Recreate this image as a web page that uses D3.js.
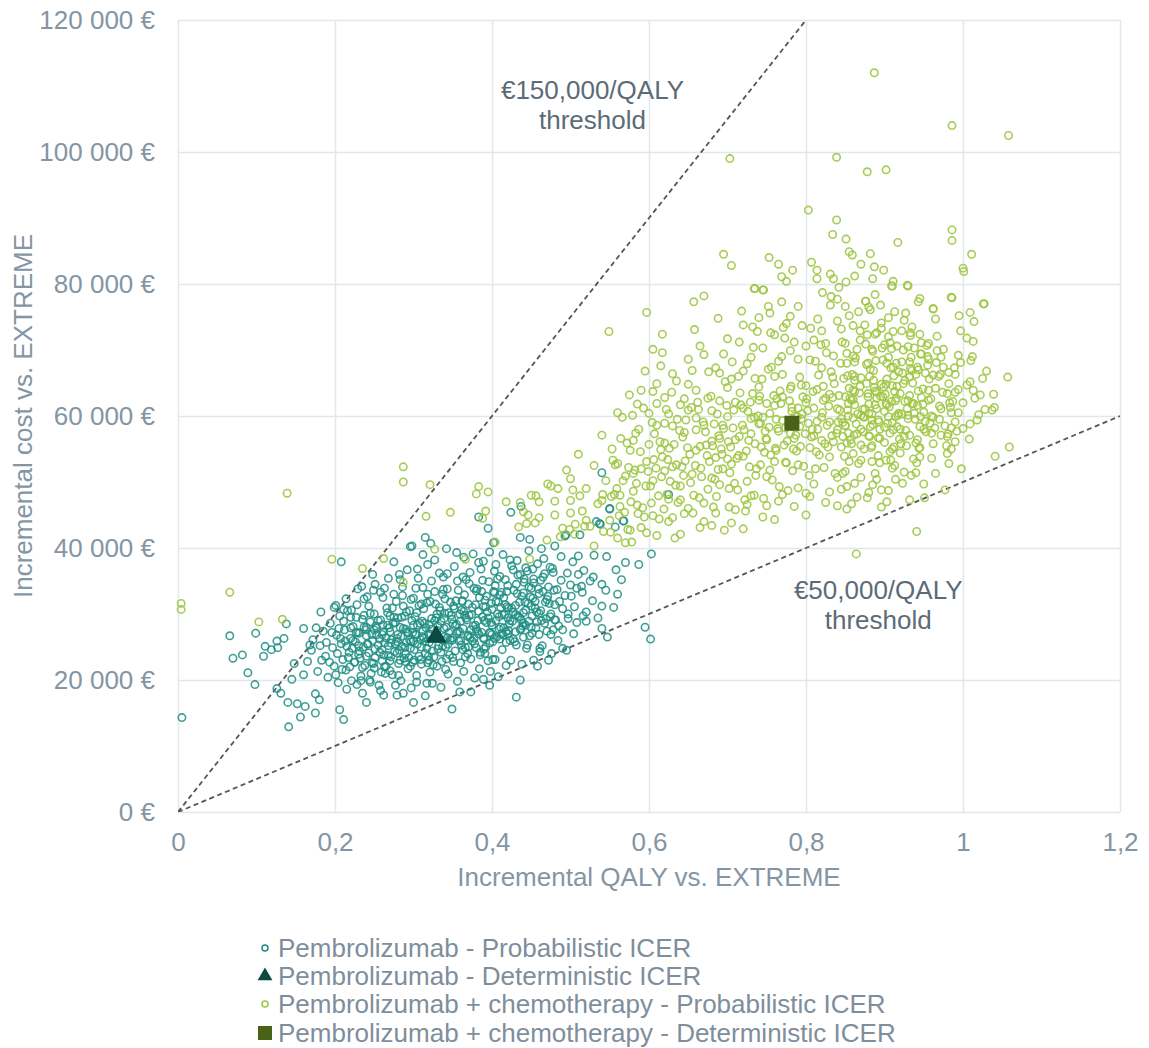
<!DOCTYPE html>
<html>
<head>
<meta charset="utf-8">
<script src="https://cdn.jsdelivr.net/npm/d3@7"></script>
<style>
  html, body { margin: 0; padding: 0; background: #fff; }
  svg { display: block; font-family: "Liberation Sans", Arial, sans-serif; }
</style>
</head>
<body>
<svg id="chart" width="1149" height="1048"></svg>
<script>
// ---------- DATA ----------
const xTicks = [0, 0.2, 0.4, 0.6, 0.8, 1, 1.2];
const yTicks = [0, 20000, 40000, 60000, 80000, 100000, 120000];

const legendLabels = [
  "Pembrolizumab - Probabilistic ICER",
  "Pembrolizumab - Deterministic ICER",
  "Pembrolizumab + chemotherapy - Probabilistic ICER",
  "Pembrolizumab + chemotherapy - Deterministic ICER"
];

const thresholds = [
  { wtp: 150000, label: ["€150,000/QALY", "threshold"], at: [0.528, 108000] },
  { wtp: 50000,  label: ["€50,000/QALY", "threshold"],  at: [0.892, 32300] }
];

const pembroDet = [[0.329, 26400]];
const comboDet = [[0.782, 58900]];

// Pembrolizumab - probabilistic (QALY, cost)
const pembroProb = [
 [0.208,37900],[0.066,26700],[0.070,23300],[0.082,23800],[0.089,21100],[0.098,19300],[0.099,27100],[0.109,23600],
 [0.111,25100],[0.119,24600],[0.127,24900],[0.126,25900],[0.135,26300],[0.138,28500],[0.005,14300],[0.141,12900],
 [0.126,18700],[0.131,18000],[0.140,16600],[0.152,16400],[0.156,14400],[0.162,16000],[0.175,15000],[0.180,17000],
 [0.206,15500],[0.211,14000],[0.145,20100],[0.160,20800],[0.148,22500],[0.160,27800],[0.182,30300],[0.201,31300],
 [0.211,30700],[0.220,29500],[0.237,32300],[0.249,33600],[0.251,34500],[0.282,36000],[0.296,40200],[0.262,17700],
 [0.279,17700],[0.240,16600],[0.235,18000],[0.245,19700],[0.175,17900],
 [0.298,40300],[0.315,41600],[0.322,40700],[0.342,39900],[0.355,39300],[0.376,39100],[0.395,43000],[0.383,44700],
 [0.402,40800],[0.424,45400],[0.437,46300],[0.436,41600],[0.448,41300],[0.463,39900],[0.480,40300],[0.494,42000],
 [0.512,42000],[0.533,44000],[0.537,43700],[0.550,46000],[0.557,43200],[0.568,44100],[0.546,38700],[0.558,36700],
 [0.587,37500],[0.603,39100],[0.540,34500],[0.529,35600],[0.514,34200],[0.501,32700],[0.540,27800],[0.547,26500],
 [0.595,28000],[0.602,26200],[0.516,29700],[0.508,28700],[0.497,30000],[0.478,27600],[0.495,24500],[0.476,24000],
 [0.461,24300],[0.453,23000],[0.436,20000],[0.431,17400],[0.408,20500],[0.397,19200],[0.389,20100],[0.373,18200],
 [0.359,18200],[0.349,15600],[0.317,19500],[0.304,19700],[0.287,18000],[0.300,16600],
 [0.540,51400],[0.625,48100],[0.550,45900],[0.538,43600],[0.567,44100],[0.493,41800],[0.510,38800],
 [0.17,24500],[0.165,22800],[0.172,26100],[0.178,21300],[0.181,25200],[0.185,27400],[0.188,23600],[0.191,20400],
 [0.194,28600],[0.197,24900],[0.199,22100],[0.202,26800],[0.204,19600],[0.206,29700],[0.208,25500],[0.21,23100],
 [0.212,27600],[0.214,21500],[0.216,30500],[0.218,24200],[0.22,26300],[0.221,19900],[0.223,28100],[0.225,22700],
 [0.226,25800],[0.228,31400],[0.23,23900],[0.231,27100],[0.233,20600],[0.235,29200],[0.236,25000],[0.238,22200],
 [0.24,26700],[0.241,32600],[0.243,24100],[0.245,28800],[0.246,21000],[0.248,26000],[0.25,30000],[0.251,23400],
 [0.253,27900],[0.255,25300],[0.256,19200],[0.258,33300],[0.26,24600],[0.261,28300],[0.263,22000],[0.265,26400],
 [0.266,30900],[0.268,23700],[0.27,27300],[0.271,25600],[0.273,20800],[0.275,29500],[0.276,24300],[0.278,31900],
 [0.28,26900],[0.281,22500],[0.283,28000],[0.285,25100],[0.286,34100],[0.288,23300],[0.29,27700],[0.291,30300],
 [0.293,21700],[0.295,26100],[0.296,24800],[0.298,29000],[0.3,32400],[0.301,23000],[0.303,27000],[0.305,25400],
 [0.306,35400],[0.308,28600],[0.31,22400],[0.311,26600],[0.313,30800],[0.315,24000],[0.316,27900],[0.318,33000],
 [0.32,25700],[0.321,21200],[0.323,29300],[0.325,26300],[0.326,23500],[0.328,31500],[0.33,27500],[0.331,24700],
 [0.333,36200],[0.335,28900],[0.336,22800],[0.338,26000],[0.34,30100],[0.341,25000],[0.343,33800],[0.345,27200],
 [0.346,23800],[0.348,29800],[0.35,26400],[0.351,31200],[0.353,24400],[0.355,28400],[0.356,35000],[0.358,25900],
 [0.36,22600],[0.361,30600],[0.363,27800],[0.365,32900],[0.366,24900],[0.368,29100],[0.37,26800],[0.371,34600],
 [0.373,23200],[0.375,31000],[0.376,28200],[0.378,25500],[0.38,33500],[0.381,27400],[0.383,30400],[0.385,24200],
 [0.386,36800],[0.388,29600],[0.39,26200],[0.391,32100],[0.393,28700],[0.395,22900],[0.396,34900],[0.398,27100],
 [0.4,30700],[0.401,25800],[0.403,33200],[0.405,29000],[0.406,26500],[0.408,31800],[0.41,35700],[0.411,28000],
 [0.413,24600],[0.415,32500],[0.416,29900],[0.418,27300],[0.42,34300],[0.421,30900],[0.423,26000],[0.425,37300],
 [0.426,28900],[0.428,33600],[0.43,31300],[0.431,25300],[0.433,35900],[0.435,29500],[0.436,27600],[0.438,32700],
 [0.44,30200],[0.441,34800],[0.443,28300],[0.445,36500],[0.446,31600],[0.448,26700],[0.45,33900],[0.451,29700],
 [0.453,35300],[0.455,31900],[0.456,27900],[0.458,37600],[0.46,33100],[0.462,30500],[0.465,35600],[0.467,28600],
 [0.47,32200],[0.472,34100],[0.475,30000],[0.478,36300],[0.48,31400],[0.483,33700],[0.485,28200],[0.488,35100],
 [0.49,30800],[0.493,32800],[0.497,29300],[0.5,34400],[0.505,31100],[0.51,36000],[0.515,33300],[0.52,30300],[0.525,35000],
 [0.222,24800],[0.227,27200],[0.232,23300],[0.237,29800],[0.242,25400],[0.247,22600],[0.252,28200],[0.257,26200],
 [0.262,23800],[0.267,30200],[0.272,26100],[0.277,28700],[0.282,24500],[0.287,31200],[0.292,27300],[0.297,25800],
 [0.302,29600],[0.307,23600],[0.312,27400],[0.317,31700],[0.322,26900],[0.327,29000],[0.332,25200],[0.337,33000],
 [0.342,28000],[0.347,26100],[0.352,30800],[0.357,27400],[0.362,32000],[0.367,29400],[0.372,26400],[0.377,33900],
 [0.382,29000],[0.387,27200],[0.392,31100],[0.397,25600],[0.402,33400],[0.407,30000],[0.412,27000],[0.417,31400],
 [0.422,28500],[0.427,30300],[0.432,33100],[0.437,29100],[0.442,31800],[0.447,28900],[0.452,32400],[0.457,30300],
 [0.462,35100],[0.468,31800],[0.474,29600],[0.24,28000],[0.26,26900],[0.28,29400],[0.3,25900],[0.32,28400],
 [0.34,26600],[0.36,28900],[0.38,27700],[0.4,28300],[0.42,29400],[0.44,33200],[0.25,21800],[0.27,22900],[0.29,24000],
 [0.31,25000],[0.33,22100],[0.35,23400],[0.37,25000],[0.39,24700],[0.41,26200],[0.43,27300],[0.45,28000],[0.46,26900],
 [0.47,27400],[0.48,29100],[0.49,27600],[0.263,33900],[0.283,35200],[0.303,33900],[0.323,35000],[0.343,36100],
 [0.363,35600],[0.383,37800],[0.403,36500],[0.423,38200],[0.443,37000],[0.234,34200],[0.214,32300],[0.199,31000],
 [0.244,20000],[0.264,21000],[0.284,19900],[0.304,20700],[0.324,19500],[0.344,20900],[0.364,21300],[0.384,21700],
 [0.404,23100],[0.424,23000],[0.444,24800],[0.464,25200],[0.484,26000],[0.504,27000],[0.52,28900],[0.54,31200],
 [0.56,33000],[0.57,37800],[0.53,38900],
 [0.205,27800],[0.209,21600],[0.213,25900],[0.217,23400],[0.221,30600],[0.225,22700],[0.229,27200],[0.233,19900],
 [0.237,28000],[0.241,25500],[0.245,30100],[0.249,22500],[0.253,26800],[0.257,24200],[0.261,32500],[0.265,22100],
 [0.269,27900],[0.273,30900],[0.277,25500],[0.281,20700],[0.285,29500],[0.289,24900],[0.293,27100],[0.297,32200],
 [0.301,24600],[0.305,28300],[0.309,23100],[0.313,26400],[0.317,24800],[0.321,31900],[0.325,22300],[0.329,29400],
 [0.333,31000],[0.337,25100],[0.341,21600],[0.345,30200],[0.349,26000],[0.353,28200],[0.357,33600],[0.361,25300],
 [0.365,29800],[0.369,24000],[0.373,27600],[0.377,26300],[0.381,33800],[0.385,23800],[0.389,31100],[0.393,32700],
 [0.397,27200],[0.401,23100],[0.405,31900],[0.409,27700],[0.413,29900],[0.417,35200],[0.421,27500],[0.425,30900],
 [0.429,25800],[0.433,29700],[0.437,27800],[0.441,35300],[0.445,25300],[0.449,32600],[0.453,34700],[0.457,28800],
 [0.461,24800],[0.465,33400],[0.469,29300],[0.473,31600],[0.477,36900],[0.481,29100],
 [0.203,24000],[0.207,26300],[0.211,28900],[0.215,25100],[0.219,22000],[0.223,26000],[0.227,29500],[0.231,24400],
 [0.235,21900],[0.239,27600],[0.243,31200],[0.247,26900],[0.251,24700],[0.255,29000],[0.259,21200],[0.263,25600],
 [0.267,28300],[0.271,23500],[0.275,33000],[0.279,26300],[0.283,23000],[0.287,27800],[0.291,25700],[0.295,30500],
 [0.299,22700],[0.303,26800],[0.307,31300],[0.311,28900],[0.315,25800],[0.319,23600],[0.323,27700],[0.327,33400],
 [0.331,28200],[0.335,24200],[0.339,29300],[0.343,26400],[0.347,31800],[0.351,22800],[0.355,27100],[0.359,30000],
 [0.363,24600],[0.367,35200],[0.371,29800],[0.375,25900],[0.379,31400],[0.383,27000],[0.387,33400],[0.391,24000],
 [0.395,29400],[0.399,31600],[0.403,26300],[0.407,35300],[0.411,31000],[0.415,27900],[0.419,33400],[0.423,29000],
 [0.427,26200],[0.431,34500],[0.435,31800],[0.439,28200],[0.443,30600],[0.447,34100],[0.451,27100],[0.455,30900],
 [0.459,33800],[0.463,29000],[0.467,36100],[0.471,32700],[0.475,26900],[0.479,33600],
 [0.262,27300],[0.268,25200],[0.274,28600],[0.279,24100],[0.284,26600],[0.289,29700],[0.294,23400],[0.299,27200],
 [0.304,30200],[0.309,26100],[0.314,28600],[0.319,27000],[0.324,24400],[0.329,26900],[0.334,30500],[0.339,27800],
 [0.344,25400],[0.349,29200],[0.354,32000],[0.359,27300],[0.364,30400],[0.369,26600],[0.374,29900],[0.379,28300],
 [0.384,32500],[0.389,26400],[0.394,30300],[0.399,28700],[0.404,34300],[0.409,29600],[0.414,26800],[0.419,31100],
 [0.258,29100],[0.286,32800],[0.312,34000],[0.338,33700],[0.362,31900],[0.388,35100],[0.412,33300],[0.436,36000],
 [0.27,21400],[0.296,22100],[0.318,22600],[0.342,23200],[0.366,23500],[0.392,25000],[0.418,25700],[0.44,26500],
 [0.22,27900],[0.23,25200],[0.24,23600],[0.25,27600],[0.26,22900],[0.27,29700],[0.28,25800],[0.29,22800],
 [0.3,28300],[0.31,31500],[0.32,23000],[0.33,30000],[0.34,32300],[0.35,28500],[0.36,26000],[0.37,31500],
 [0.38,24900],[0.39,29000],[0.4,26900],[0.41,32900],[0.42,27000],[0.43,29900],[0.44,28600],[0.45,31200],[0.46,30100],
 [0.305,36800],[0.318,37500],[0.327,38200],[0.338,35600],[0.352,37200],[0.364,38600],[0.372,36300],[0.389,38000],
 [0.397,39400],[0.405,37500],[0.414,39000],[0.427,36700],[0.432,38100],[0.447,39600],[0.452,36800],[0.466,38400],
 [0.474,37100],[0.488,38700],[0.496,36200],[0.503,37900],[0.517,36600],[0.528,32000],[0.535,29400],[0.545,33600],
 [0.555,31000],[0.565,35200],[0.508,33900],[0.486,31900],[0.268,35400],[0.292,36700],[0.275,37900],[0.312,39000],
 [0.248,36000],[0.229,33800],[0.196,27200],[0.189,25700],[0.183,23000],[0.176,27900],[0.168,25300],[0.193,22700],
 [0.201,20800],[0.215,18600],[0.228,19300],[0.258,18400],[0.277,19200],[0.297,18800],[0.315,17600],[0.335,18900],
 [0.356,19800],[0.378,20300],[0.398,21300],[0.418,22200],[0.438,22400],[0.458,22100],[0.472,23000],[0.49,24800]
];

// Pembrolizumab + chemotherapy - probabilistic (QALY, cost)
const comboProb = [
 [0.196,38300],[0.235,36900],[0.262,38400],[0.066,33300],[0.103,28800],[0.133,29200],[0.004,31600],[0.004,30700],
 [0.287,34800],[0.139,48300],[0.287,52300],[0.287,50000],[0.321,49600],[0.383,49300],[0.380,48200],[0.395,48500],
 [0.347,45400],[0.316,44800],[0.392,45600],[0.388,44500],[0.418,47000],[0.436,46900],[0.456,47900],[0.471,49700],
 [0.484,49000],[0.503,48800],[0.512,47900],[0.500,45300],[0.506,43600],[0.499,42800],[0.487,41700],[0.518,43300],
 [0.542,42500],[0.551,42400],[0.563,48000],[0.541,48100],[0.576,42700],[0.597,42300],[0.578,40900],[0.446,45000],
 [0.444,43700],[0.434,43200],[0.448,38300],[0.366,38300],[0.327,39800],[0.404,40900],
 [0.549,72800],[0.597,75700],[0.617,72400],[0.617,69600],[0.605,70100],[0.658,73100],[0.657,77300],[0.670,78200],
 [0.695,84500],[0.705,82800],[0.703,99000],[0.753,84000],[0.765,83000],[0.783,82100],[0.769,81100],[0.775,80400],
 [0.734,79300],[0.746,79100],[0.718,75900],[0.688,74800],[0.752,76600],[0.769,77300],[0.754,75600],[0.732,73500],
 [0.771,73400],[0.738,72800],
 [0.887,112000],[0.986,104000],[1.058,102500],[0.839,99200],[0.878,97000],[0.902,97300],[0.803,91200],[0.839,89700],
 [0.834,87500],[0.851,86800],[0.986,88200],[0.986,86600],[0.917,86300],[1.011,84500],[1.000,82400],[1.001,81900],
 [0.807,83300],[0.814,82100],[0.814,80800],[0.831,81500],[0.835,80800],[0.855,84900],[0.859,84400],[0.870,83000],
 [0.882,84600],[0.887,82600],[0.899,82100],[0.885,80800],[0.862,81200],[0.851,80300],[0.842,79500],[0.911,80400],
 [0.910,79700],[0.930,79700],[0.888,78400],[0.876,77400],[0.821,78700],[0.832,78100],[0.840,77700],[0.945,77800],
 [0.943,77300],[0.986,77900],[1.026,77000],[0.735,79300],[0.745,79100],[0.790,76600],[0.831,76800],[0.850,76600],
 [0.962,76300],
 [1.027,77000],[1.009,75700],[1.014,74300],[0.997,72900],[1.013,71300],[0.994,69200],[1.012,69000],[1.057,65900],
 [0.994,64000],[1.005,64700],[1.009,65200],[1.013,63900],[1.022,63200],[1.039,63300],[1.028,61000],[1.037,60900],
 [1.018,59400],[1.009,58800],[1.008,56500],[1.059,55300],[1.041,53900],[0.998,52000],[0.982,52800],[0.980,54300],
 [0.990,56100],[0.985,60500],[0.983,62000],[0.990,59100],[0.972,57100],[0.981,57300],[0.977,48800],[0.951,47600],
 [0.932,47300],[0.941,42500],[0.864,39100],[0.941,52900],[0.934,51000],[0.914,50400],[0.923,49800],[0.878,47600],
 [0.896,48800],[0.903,47000],[0.896,46200],[0.852,45900],[0.858,46700],[0.888,51300],[0.884,53100],[0.902,53300],
 [0.908,53300],[0.912,55300],[0.921,55800],[0.928,55500],[0.945,55200],[0.942,56400],[0.953,57600],[0.958,58900],
 [0.962,59800],[0.946,59900],[0.938,60400],[0.930,60100],[0.922,60300],[0.949,61800],[0.956,62400],[0.937,61900],
 [0.956,63900],[0.971,66300],[0.962,66200],[0.952,66500],[0.943,67000],[0.933,67200],[0.972,68900],[0.966,68100],
 [0.956,68600],[0.947,69400],[0.938,70300],[0.924,70000],[0.932,68200],[0.911,67400],[0.918,66700],[0.967,72100],
 [0.956,71000],[0.947,71100],[0.935,73500],[0.933,72600],[0.962,76200],[0.985,78000],[0.929,79800],[0.909,79700],
 [0.876,77400],[0.882,76100],[0.867,75800],[0.905,74900],[0.913,75800],[0.927,75600],[0.922,72900],[0.911,72800],
 [0.896,73300],[0.888,72400],[0.878,72300],[0.869,71500],[0.907,71100],[0.884,70100],[0.905,68900],[0.898,68500],
 [0.879,68000],[0.862,68200],[0.860,69100],[0.852,68000],[0.882,67100],[0.932,65900],[0.926,65400],[0.916,64500],
 [0.913,63700],[0.903,65600],[0.896,64800],[0.886,65400],[0.877,64900],[0.869,64500],[0.862,65400],[0.860,63900],
 [0.888,63800],[0.898,62900],[0.909,62200],[0.903,61700],[0.890,62700],[0.879,62900],[0.858,62400],[0.862,61700],
 [0.853,60900],[0.873,59900],[0.884,59400],[0.892,59400],[0.918,60400],[0.916,58400],[0.911,57900],[0.907,57400],
 [0.870,58000],[0.850,58600],[0.854,57400],[0.847,56900],[0.858,55800],[0.845,55300],[0.870,55600],[0.884,55500],
 [0.894,56600],[0.881,56900],[0.855,53100],[0.847,51300],[0.862,49800],[0.852,49300],
 [0.44,45500],[0.455,43800],[0.46,47000],[0.47,41200],[0.475,49400],[0.48,45000],[0.49,43000],[0.495,51800],
 [0.5,47200],[0.505,42100],[0.51,54200],[0.515,45600],[0.52,49000],[0.525,43300],[0.53,52500],[0.535,46700],
 [0.54,57100],[0.545,50200],[0.55,44200],[0.553,55000],[0.556,48100],[0.56,52800],[0.563,46300],[0.566,59800],
 [0.57,50900],[0.573,42800],[0.576,54800],[0.58,48600],[0.583,57400],[0.586,45200],[0.59,52000],[0.593,61200],
 [0.596,49400],[0.6,55700],[0.603,46800],[0.606,53400],[0.61,58600],[0.613,44400],[0.616,50800],[0.62,62800],
 [0.623,48100],[0.626,55100],[0.63,52300],[0.633,41500],[0.636,59500],[0.64,47300],[0.643,56800],[0.646,53200],
 [0.65,64800],[0.653,49900],[0.656,45300],[0.66,57900],[0.663,61000],[0.666,52100],[0.67,44000],[0.673,55600],
 [0.676,66700],[0.68,50600],[0.683,58800],[0.686,47800],[0.69,62300],[0.693,54200],[0.696,42700],[0.7,59900],
 [0.703,51400],[0.706,68200],[0.71,56400],[0.713,48800],[0.716,63500],[0.72,53900],[0.723,45600],[0.726,60700],
 [0.73,57300],[0.733,70400],[0.736,51000],[0.74,64400],[0.743,55300],[0.746,47500],[0.75,61900],[0.753,58300],
 [0.756,67400],[0.76,53100],[0.763,62600],[0.766,49300],[0.77,59300],[0.773,71800],[0.776,56200],[0.78,64100],
 [0.783,51700],[0.786,60000],[0.79,68600],[0.793,55400],[0.796,62900],[0.8,48300],[0.803,58900],[0.806,73300],
 [0.81,61200],[0.813,54600],[0.816,66200],[0.82,59800],[0.823,52200],[0.826,69600],[0.83,63300],[0.833,57000],
 [0.836,64900],[0.84,50700],[0.843,60900],[0.846,71200],[0.85,58500],[0.853,66100],[0.856,62700],[0.86,54300],
 [0.863,68800],[0.866,60300],[0.87,65800],[0.873,57600],[0.876,70900],[0.88,61800],[0.883,55200],[0.886,66900],
 [0.89,63600],[0.893,59100],[0.896,74100],[0.9,56000],[0.903,68000],[0.906,61400],[0.91,64600],[0.913,52500],
 [0.916,70600],[0.92,58000],[0.923,66500],[0.926,62200],[0.93,59600],[0.933,72200],[0.936,65000],[0.94,55900],
 [0.943,63800],[0.946,69400],[0.95,60600],[0.955,67700],[0.96,57400],[0.965,64200],[0.97,61500],[0.975,70100],
 [0.98,63400],[0.985,58200],[0.99,66300],[1.0,62000],[1.01,68400],[1.02,60200],[1.03,66800],[1.04,61300],
 [0.605,50200],[0.615,54900],[0.625,47400],[0.635,52600],[0.645,57500],[0.655,51200],[0.665,55400],[0.675,48900],
 [0.685,53700],[0.695,58100],[0.705,52700],[0.715,56900],[0.725,50100],[0.735,55800],[0.745,59800],[0.755,54100],
 [0.765,57700],[0.775,52900],[0.785,56600],[0.795,60300],[0.805,55200],[0.815,58000],[0.825,62700],[0.835,56100],
 [0.845,59600],[0.855,64200],[0.865,57300],[0.875,61100],[0.885,58700],[0.895,63000],[0.905,59900],[0.915,62700],
 [0.925,56900],[0.935,61800],[0.945,58400],[0.62,58900],[0.64,61700],[0.66,63900],[0.68,60800],[0.7,64300],
 [0.72,66800],[0.74,62400],[0.76,66000],[0.78,69900],[0.8,64600],[0.82,67300],[0.84,61100],[0.86,59700],[0.88,57000],
 [0.9,60700],[0.92,54400],[0.94,51400],[0.96,53600],[0.63,44600],[0.65,46000],[0.67,46800],[0.69,49600],[0.71,45800],
 [0.73,47900],[0.75,50800],[0.77,48100],[0.79,52600],[0.81,49700],[0.83,53800],[0.85,51600],[0.87,53300],[0.89,50400],
 [0.91,55000],[0.57,40800],[0.59,43100],[0.61,41900],[0.64,42100],[0.68,43400],[0.72,42900],[0.76,44300],[0.8,45000],
 [0.84,46400],[0.88,48400],[0.7,71700],[0.72,73800],[0.74,74900],[0.76,72300],[0.78,75100],[0.8,70600],[0.82,72900],
 [0.84,74400],[0.86,73700],[0.88,76500],[0.9,70800],[0.67,69300],[0.65,68600],[0.63,66400],[0.61,64900],[0.59,63900],
 [0.58,56300],[0.6,60400],[0.62,51700],[0.64,49400],[0.66,54800],[0.68,56200],[0.7,53500],[0.72,61200],[0.74,58800],
 [0.76,61600],[0.78,57400],[0.8,62000],[0.82,56300],[0.84,57900],[0.86,62500],[0.88,60400],[0.9,58300],[0.92,63400],
 [0.94,66300],[0.96,60000],[0.98,56900],[0.702,46200],[0.742,52600],[0.782,60700],[0.822,64500],[0.862,66000],
 [0.902,64800],[0.942,61600],[0.982,64900],[0.762,54800],[0.792,58400],[0.812,52000],[0.852,55900],[0.892,54000],
 [0.932,57100],
 [0.552,47800],[0.557,52600],[0.562,44900],[0.567,50200],[0.572,55900],[0.577,47000],[0.582,51800],[0.587,58000],
 [0.592,46100],[0.597,53100],[0.602,49400],[0.607,57300],[0.612,47900],[0.617,53800],[0.622,61000],[0.627,50100],
 [0.632,55700],[0.637,46900],[0.642,52300],[0.647,59400],[0.652,54200],[0.657,48000],[0.662,62100],[0.667,50800],
 [0.672,57600],[0.677,53100],[0.682,46200],[0.687,60300],[0.692,55000],[0.697,65200],[0.702,49000],[0.707,58200],
 [0.712,53600],[0.717,61700],[0.722,47300],[0.727,56300],[0.732,63400],[0.737,52000],[0.742,58900],[0.747,54500],
 [0.752,67100],[0.757,50300],[0.762,59500],[0.767,63800],[0.772,55600],[0.777,48700],[0.782,61300],[0.787,57100],
 [0.792,65900],[0.797,52400],[0.802,60800],[0.807,56800],[0.812,68300],[0.817,54100],[0.822,62400],[0.827,58600],
 [0.832,66700],[0.837,51300],[0.842,63100],[0.847,59000],[0.852,69500],[0.857,56400],[0.862,63700],[0.867,52800],
 [0.872,61000],[0.877,67800],[0.882,58400],[0.887,64300],[0.892,56700],[0.897,70300],[0.902,61900],[0.907,54600],
 [0.912,66100],[0.917,60100],[0.922,68200],[0.927,57800],[0.932,63100],[0.937,53500],[0.942,67400],[0.947,62800],
 [0.952,59200],[0.957,65600],[0.962,55800],[0.967,69900],[0.972,61100],[0.977,58500],[0.982,66600],[0.987,62200],
 [0.992,57700],[0.997,68100],
 [0.554,53300],[0.559,49000],[0.564,56600],[0.569,45400],[0.574,52200],[0.579,60100],[0.584,49800],[0.589,54600],
 [0.594,44700],[0.599,51600],[0.604,59000],[0.609,52100],[0.614,56100],[0.619,45900],[0.624,53400],[0.629,63600],
 [0.634,49500],[0.639,57800],[0.644,51000],[0.649,55200],[0.654,61300],[0.659,52500],[0.664,47600],[0.669,59100],
 [0.674,54000],[0.679,63000],[0.684,50400],[0.689,57000],[0.694,52000],[0.699,61600],[0.704,55300],[0.709,49800],
 [0.714,66000],[0.719,58600],[0.724,54700],[0.729,62100],[0.734,48000],[0.739,60000],[0.744,65600],[0.749,56600],
 [0.754,51800],[0.759,63100],[0.764,58100],[0.769,69000],[0.774,53000],[0.779,62300],[0.784,55000],[0.789,59900],
 [0.794,64700],[0.799,57300],[0.804,51000],[0.809,63700],[0.814,59200],[0.819,70800],[0.824,55800],[0.829,61500],
 [0.834,65900],[0.839,57400],[0.844,68000],[0.849,53900],[0.854,61900],[0.859,66300],[0.864,58800],[0.869,72900],
 [0.874,55000],[0.879,63400],[0.884,60300],[0.889,68400],[0.894,52900],[0.899,64400],[0.904,58900],[0.909,70200],
 [0.914,62300],[0.919,56500],[0.924,64900],[0.929,61100],[0.934,68900],[0.939,59500],[0.944,55100],[0.949,64100],
 [0.954,70700],[0.959,62600],[0.964,58200],[0.969,66000],[0.974,63600],[0.979,55500],[0.984,61300],[0.989,67300],
 [0.994,60500],
 [0.681,55500],[0.688,51900],[0.694,58600],[0.701,56100],[0.708,60900],[0.714,54000],[0.721,57900],[0.728,52300],
 [0.734,59800],[0.741,63000],[0.748,57700],[0.754,60400],[0.761,55100],[0.768,61900],[0.774,58200],[0.781,64500],
 [0.788,54700],[0.794,59600],[0.801,62600],[0.808,58000],[0.814,64000],[0.821,60500],[0.828,55300],[0.834,62800],
 [0.841,59100],[0.848,65700],[0.854,60000],[0.861,57100],[0.868,63500],[0.874,59800],[0.881,66000],[0.888,61700],
 [0.894,58000],[0.901,63300],[0.908,67300],[0.914,59900],
 [0.69,66500],[0.73,68900],[0.77,66300],[0.81,71500],[0.85,71000],[0.89,72600],[0.93,70500],[0.75,46400],
 [0.79,49100],[0.83,48500],[0.87,50700],[0.91,52100],[0.95,49700],[0.66,59700],[0.62,55900],[0.58,51300],
 [0.54,47200],[0.52,44200],[0.5,50500],[0.48,47100],[0.46,44600],[0.45,48000],[0.53,40300],[0.56,41500],
 [0.56,60500],[0.575,63200],[0.585,61800],[0.595,66800],[0.605,63700],[0.615,67600],[0.625,60300],[0.635,65300],
 [0.645,62600],[0.655,66900],[0.665,70600],[0.675,62700],[0.685,67300],[0.695,69400],[0.705,65600],[0.715,71200],
 [0.725,67900],[0.735,65700],[0.745,70300],[0.755,72600],[0.765,68300],[0.775,74000],[0.785,71200],[0.795,73700],
 [0.805,68500],[0.815,74700],[0.825,71000],[0.835,69100],[0.845,73200],[0.855,75200],[0.865,70100],[0.875,73800],
 [0.885,69800],[0.895,76800],[0.905,72000],[0.915,68000],[0.925,74500],[0.935,66900],[0.945,72400],[0.955,69000],
 [0.965,74700],[0.975,67400],
 [0.585,46500],[0.605,44900],[0.625,44000],[0.645,45200],[0.665,43100],[0.685,45300],[0.705,43800],[0.725,46600],
 [0.745,44700],[0.765,47100],[0.785,46300],[0.805,47800],[0.825,46900],[0.845,48900],[0.865,47700],[0.885,49600],
 [0.905,48700],[0.925,51500],[0.945,53800],[0.965,51300],[0.985,55000],[1.0,58100],[1.015,62700],[1.025,65700],
 [1.005,71800],[0.995,75200],
 [0.61,61900],[0.63,58500],[0.65,60900],[0.67,58600],[0.69,56600],[0.71,62100],[0.73,59600],[0.75,56400],
 [0.77,62900],[0.79,61200],[0.81,57000],[0.83,59100],[0.85,62900],[0.87,60100],[0.89,61100],[0.91,59000],
 [0.93,62300],[0.95,58000],[0.97,59500],[0.99,63600]
];

// ---------- LAYOUT ----------
const svg = d3.select("#chart");
const plot = { left: 178, right: 1120, top: 20, bottom: 812 };

const x = d3.scaleLinear().domain([0, 1.2]).range([plot.left, plot.right]);
const y = d3.scaleLinear().domain([0, 120000]).range([plot.bottom, plot.top]);

const tickColor = "#8495a4";
const gridColor = "#e3e7ec";
const fontSize = 26;

const fmtY = v => d3.format(",")(v).replace(/,/g, " ") + " €";
const fmtX = v => String(v).replace(".", ",");

// gridlines via axes
const gy = svg.append("g")
  .attr("transform", `translate(${plot.left},0)`)
  .call(d3.axisLeft(y).tickValues(yTicks).tickSize(-(plot.right - plot.left)).tickFormat(fmtY).tickPadding(23));
gy.select(".domain").remove();
gy.selectAll(".tick line").attr("stroke", gridColor).attr("stroke-width", 1.5);
gy.selectAll(".tick text").attr("fill", tickColor).attr("font-size", fontSize)
  .attr("font-family", "Liberation Sans, Arial, sans-serif");

const gx = svg.append("g")
  .attr("transform", `translate(0,${plot.bottom})`)
  .call(d3.axisBottom(x).tickValues(xTicks).tickSize(-(plot.bottom - plot.top)).tickFormat(fmtX).tickPadding(21));
gx.select(".domain").remove();
gx.selectAll(".tick line").attr("stroke", gridColor).attr("stroke-width", 1.5);
gx.selectAll(".tick text").attr("fill", tickColor).attr("font-size", fontSize)
  .attr("font-family", "Liberation Sans, Arial, sans-serif");

// axis titles
svg.append("text")
  .attr("x", 649).attr("y", 886)
  .attr("text-anchor", "middle").attr("fill", tickColor).attr("font-size", fontSize)
  .text("Incremental QALY vs. EXTREME");

svg.append("text")
  .attr("transform", `translate(32,${(plot.top + plot.bottom) / 2}) rotate(-90)`)
  .attr("text-anchor", "middle").attr("fill", tickColor).attr("font-size", fontSize)
  .text("Incremental cost vs. EXTREME");

// threshold lines (clipped to plot)
svg.append("clipPath").attr("id", "clip").append("rect")
  .attr("x", plot.left).attr("y", plot.top)
  .attr("width", plot.right - plot.left).attr("height", plot.bottom - plot.top);

const lineG = svg.append("g").attr("clip-path", "url(#clip)");
thresholds.forEach(t => {
  const qMax = Math.min(1.2, 120000 / t.wtp);
  lineG.append("line")
    .attr("x1", x(0)).attr("y1", y(0))
    .attr("x2", x(qMax)).attr("y2", y(qMax * t.wtp))
    .attr("stroke", "#555").attr("stroke-width", 1.8)
    .attr("stroke-dasharray", "5,3.5");
});

// points
const teal = "#1f8e82";
const lime = "#9ec744";

svg.append("g").selectAll("circle").data(pembroProb).join("circle")
  .attr("cx", d => x(d[0])).attr("cy", d => y(d[1])).attr("r", 3.7)
  .attr("fill", "none").attr("stroke", teal).attr("stroke-width", 1.6).attr("stroke-opacity", 0.85);

svg.append("g").selectAll("circle").data(comboProb).join("circle")
  .attr("cx", d => x(d[0])).attr("cy", d => y(d[1])).attr("r", 3.7)
  .attr("fill", "none").attr("stroke", lime).attr("stroke-width", 1.6).attr("stroke-opacity", 0.9);

const triSym = d3.symbol().type(d3.symbolTriangle).size(190);
svg.append("g").selectAll("path").data(pembroDet).join("path")
  .attr("d", triSym).attr("transform", d => `translate(${x(d[0])},${y(d[1]) - 1})`)
  .attr("fill", "#0b4a40");

svg.append("g").selectAll("rect").data(comboDet).join("rect")
  .attr("x", d => x(d[0]) - 7.5).attr("y", d => y(d[1]) - 7.5)
  .attr("width", 15).attr("height", 15).attr("fill", "#4a6218");

// threshold annotations
thresholds.forEach(t => {
  const tx = svg.append("text")
    .attr("x", x(t.at[0])).attr("y", y(t.at[1]))
    .attr("text-anchor", "middle").attr("fill", "#5c6b78").attr("font-size", fontSize);
  t.label.forEach((s, i) => {
    tx.append("tspan").attr("x", x(t.at[0])).attr("dy", i === 0 ? 0 : 30).text(s);
  });
});

// legend
const legendY = [948, 976, 1004, 1033];
const lg = svg.append("g");
legendLabels.forEach((lab, i) => {
  const cy = legendY[i];
  if (i === 0 || i === 2) {
    lg.append("circle").attr("cx", 265).attr("cy", cy).attr("r", 3)
      .attr("fill", "none").attr("stroke", i === 0 ? teal : lime).attr("stroke-width", 1.5);
  } else if (i === 1) {
    lg.append("path").attr("d", d3.symbol().type(d3.symbolTriangle).size(95))
      .attr("transform", `translate(265,${cy})`).attr("fill", "#0b4a40");
  } else {
    lg.append("rect").attr("x", 258).attr("y", cy - 7).attr("width", 14).attr("height", 14)
      .attr("fill", "#4a6218");
  }
  lg.append("text").attr("x", 278).attr("y", cy + 9)
    .attr("fill", "#7e8e9c").attr("font-size", fontSize).text(lab);
});
</script>
</body>
</html>
